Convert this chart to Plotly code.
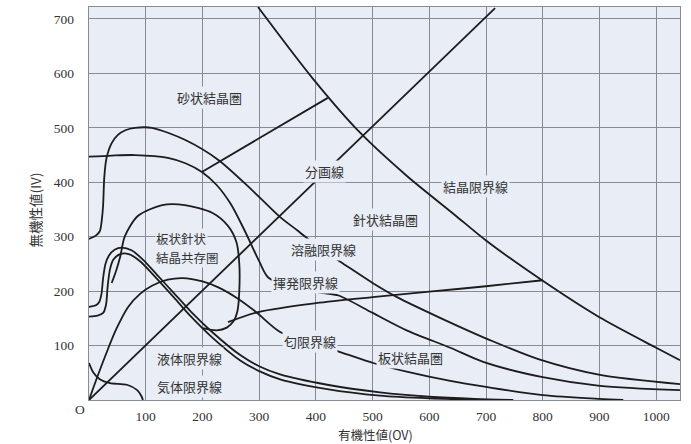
import plotly.graph_objects as go

# ---- data ----
x_ticks = [100, 200, 300, 400, 500, 600, 700, 800, 900, 1000]
y_ticks = [100, 200, 300, 400, 500, 600, 700]

crystal_x = [298, 395, 478, 560, 645, 700, 800, 900, 1000, 1042]
crystal_y = [722, 590, 491, 412, 340, 293, 219, 152, 96, 73]

division_x = [0, 716]
division_y = [0, 720]

sand_x = [199, 421]
sand_y = [419, 555]

melt_x = [0, 12, 19, 23, 25, 27, 31, 40, 51, 65, 81, 111, 169, 228, 287, 337, 367, 413, 443, 500, 543, 619, 707, 795, 901, 1042]
melt_y = [296, 302, 310, 335, 360, 410, 445, 472, 487, 496, 500, 500, 478, 441, 386, 336, 312, 274, 254, 215, 189, 151, 110, 74, 46, 29]

vol_x = [0, 40, 81, 139, 170, 199, 225, 250, 275, 300, 316, 350, 381, 410, 440, 500, 560, 637, 695, 800, 901, 1042]
vol_y = [447, 449, 450, 445, 435, 419, 395, 360, 310, 255, 225, 210, 203, 197, 192, 160, 128, 96, 70, 42, 26, 18]

loop_x = [40, 48, 55, 63, 86, 129, 169, 217, 245, 260, 265, 265, 262, 255, 243, 225, 201]
loop_y = [215, 238, 263, 300, 338, 358, 358, 344, 320, 290, 250, 200, 165, 145, 133, 128, 132]

plate_x = [245, 300, 400, 500, 600, 700, 800]
plate_y = [143, 162, 178, 189, 199, 209, 220]

odor_x = [0, 12, 28, 48, 69, 90, 111, 139, 165, 200, 228, 260, 293, 337, 390, 443, 501, 560, 637, 700, 800, 900, 942]
odor_y = [0, 35, 79, 130, 171, 195, 210, 221, 224, 218, 207, 188, 163, 125, 105, 88, 68, 52, 35, 24, 9, 2, 0]

liq_x = [0, 12, 18, 22, 25, 29, 35, 45, 58, 75, 95, 120, 150, 180, 217, 266, 300, 337, 420, 513, 600, 680, 748]
liq_y = [171, 174, 180, 195, 225, 250, 265, 276, 280, 275, 258, 230, 196, 162, 125, 83, 62, 47, 28, 14, 6, 2, 0]

liq2_x = [0, 15, 25, 30, 33, 37, 43, 55, 70, 90, 115, 150, 180, 217, 266, 300, 337, 420, 513, 600, 700]
liq2_y = [153, 155, 160, 175, 210, 240, 258, 268, 268, 255, 228, 188, 153, 115, 73, 53, 38, 20, 8, 3, 0]

gas_x = [0, 8, 19, 37, 67, 85, 93, 95]
gas_y = [68, 50, 38, 31, 28, 18, 6, 0]

labels = ["砂状結晶圏", "分画線", "結晶限界線", "針状結晶圏",
          "溶融限界線", "揮発限界線", "匂限界線", "板状結晶圏", "液体限界線", "気体限界線"]
label_x = [213, 416, 681, 522, 413, 381, 390, 566, 178, 178]
label_y = [555, 419, 393, 331, 276, 215, 108, 79, 77, 24]

coexist_labels = ["板状針状", "結晶共存圏"]
coexist_x = [116, 116]
coexist_y = [296, 262]

# ---- figure ----
BG = "#e8edf6"
LINE = "#1c1c1c"
GRID = "#878b95"
TXT = "#333333"

fig = go.Figure()

curves = [
    (crystal_x, crystal_y, "spline"),
    (division_x, division_y, "linear"),
    (sand_x, sand_y, "linear"),
    (melt_x, melt_y, "spline"),
    (vol_x, vol_y, "spline"),
    (loop_x, loop_y, "spline"),
    (plate_x, plate_y, "spline"),
    (odor_x, odor_y, "spline"),
    (liq_x, liq_y, "spline"),
    (liq2_x, liq2_y, "spline"),
    (gas_x, gas_y, "spline"),
]
for cx, cy, shp in curves:
    fig.add_trace(go.Scatter(x=cx, y=cy, mode="lines",
                             line=dict(color=LINE, width=1.8, shape=shp, smoothing=0.8),
                             hoverinfo="skip", showlegend=False, cliponaxis=True))

jp_font = dict(family="Noto Sans CJK JP", size=13, color=TXT)
for t, lx, ly in zip(labels, label_x, label_y):
    fig.add_annotation(x=lx, y=ly, text=t, showarrow=False, font=jp_font,
                       bgcolor=BG, borderpad=1, xanchor="center", yanchor="middle")
co_font = dict(family="Noto Sans CJK JP", size=12.5, color=TXT)
for t, lx, ly in zip(coexist_labels, coexist_x, coexist_y):
    fig.add_annotation(x=lx, y=ly, text=t, showarrow=False, font=co_font,
                       bgcolor=BG, borderpad=0, xanchor="left", yanchor="middle")

# origin marker and axis titles
fig.add_annotation(xref="paper", yref="paper", x=-0.015, y=-0.025, text="O",
                   xanchor="center", yanchor="middle", showarrow=False,
                   font=dict(family="Liberation Serif", size=13.5, color=TXT))
fig.add_annotation(xref="paper", yref="paper", x=0.484, y=-0.088, text="有機性値(OV)",
                   xanchor="center", yanchor="middle", showarrow=False,
                   font=dict(family="Noto Sans CJK JP", size=12.5, color=TXT))
fig.add_annotation(xref="paper", yref="paper", x=-0.091, y=0.483, text="無機性値(IV)",
                   xanchor="center", yanchor="middle", textangle=-90, showarrow=False,
                   font=dict(family="Noto Sans CJK JP", size=13.5, color=TXT))

fig.update_layout(
    width=691, height=444,
    margin=dict(l=89, r=11, t=7, b=44, autoexpand=False),
    paper_bgcolor="white", plot_bgcolor=BG,
    showlegend=False,
)
fig.update_xaxes(range=[0, 1042], tickvals=x_ticks, showgrid=True, gridcolor=GRID, gridwidth=1.4,
                 zeroline=False, showline=True, linecolor=GRID, linewidth=1.4, mirror=True,
                 ticks="outside", ticklen=4, tickcolor="rgba(0,0,0,0)", automargin=False,
                 tickfont=dict(family="Liberation Serif", size=13.5, color=TXT))
fig.update_yaxes(range=[0, 722], tickvals=y_ticks, showgrid=True, gridcolor=GRID, gridwidth=1.4,
                 zeroline=False, showline=True, linecolor=GRID, linewidth=1.4, mirror=True,
                 ticks="outside", ticklen=11, tickcolor="rgba(0,0,0,0)", automargin=False,
                 tickfont=dict(family="Liberation Serif", size=13.5, color=TXT))

fig.write_html("out.html", config={"displayModeBar": False},
               post_script="document.body.style.margin='0';")
